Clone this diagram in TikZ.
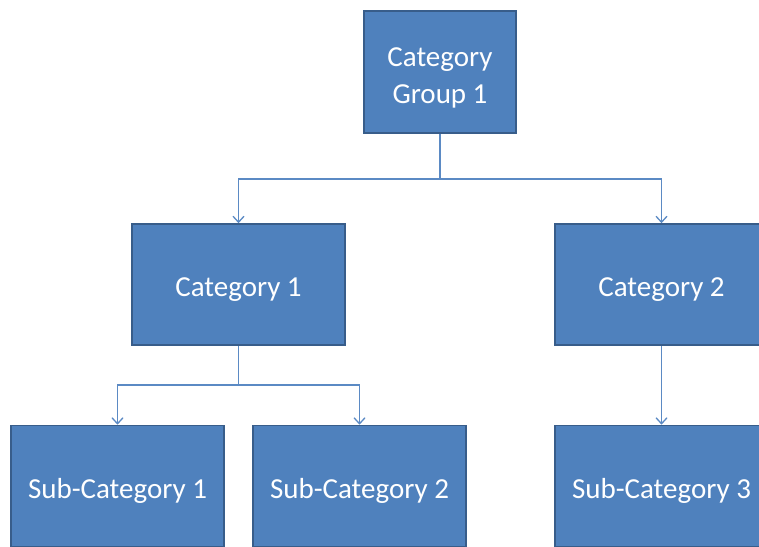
\documentclass[tikz,border=0pt]{standalone}
\usepackage{fontspec}
\setmainfont{Carlito}
\usetikzlibrary{arrows.meta}
\definecolor{boxfill}{HTML}{4F81BD}
\definecolor{boxline}{HTML}{385D8A}
\definecolor{conn}{HTML}{5B8AC4}
\begin{document}
\begin{tikzpicture}[x=1pt,y=-1pt,
  catbox/.style={draw=boxline,line width=1.6pt,fill=boxfill,text=white,
    minimum width=213pt,minimum height=121pt,inner sep=0pt,align=center,
    text height=24pt,text depth=0pt,
    font=\fontsize{29}{37}\selectfont},
  link/.style={draw=conn,line width=1.5pt},
  linkarrow/.style={link,-{Straight Barb[length=6pt,width=11pt,line width=1.3pt]}}]
\useasboundingbox (0,0) rectangle (759,546);
\clip (0,0) rectangle (759,546);
\node[catbox,minimum width=152pt,minimum height=122pt,text height=63pt,text depth=0pt] (g1) at (440,72) {Category\\Group 1};
\node[catbox] (c1) at (238.5,284.5) {Category 1};
\node[catbox] (c2) at (661.5,284.5) {Category 2};
\node[catbox] (s1) at (117.5,486) {Sub-Category 1};
\node[catbox] (s2) at (359.5,486) {Sub-Category 2};
\node[catbox] (s3) at (661.5,486) {Sub-Category 3};
\coordinate (j1) at (440,179);
\coordinate (j2) at (238.5,385);
\draw[link] (g1.south) -- (j1);
\draw[linkarrow] (j1) -| (c1.north);
\draw[linkarrow] (j1) -| (c2.north);
\draw[link] (c1.south) -- (j2);
\draw[linkarrow] (j2) -| (s1.north);
\draw[linkarrow] (j2) -| (s2.north);
\draw[linkarrow] (c2.south) -- (s3.north);
\end{tikzpicture}
\end{document}
